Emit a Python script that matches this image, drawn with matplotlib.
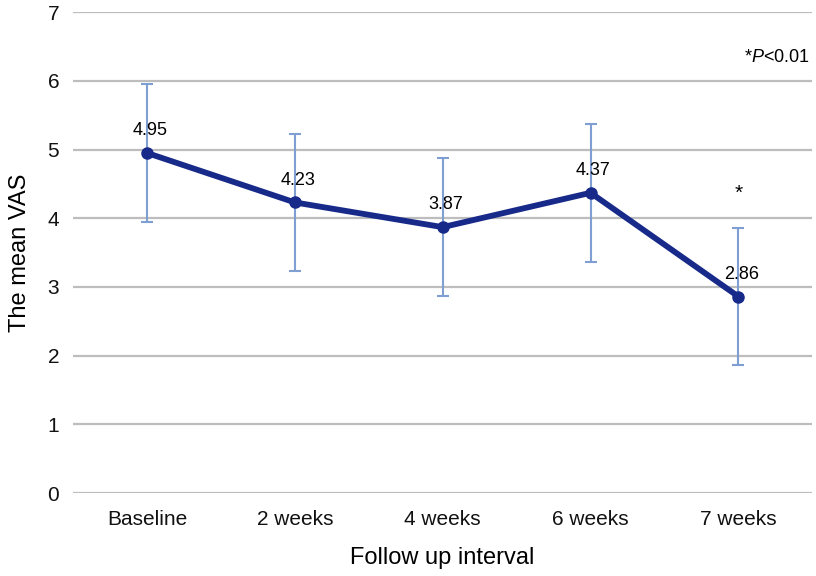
import matplotlib
matplotlib.use("Agg")
import matplotlib.pyplot as plt

plt.rcParams['font.family'] = ['Liberation Sans', 'DejaVu Sans']
plt.rcParams['mathtext.fontset'] = 'custom'
plt.rcParams['mathtext.rm'] = 'Liberation Sans'
plt.rcParams['mathtext.it'] = 'Liberation Sans:italic'

intervals = ["Baseline", "2 weeks", "4 weeks", "6 weeks", "7 weeks"]
mean_vas = [4.95, 4.23, 3.87, 4.37, 2.86]
errors = [1.0, 1.0, 1.0, 1.0, 1.0]
significant = [False, False, False, False, True]

fig = plt.figure(figsize=(8.16, 5.76), dpi=100)
ax = fig.add_axes([0.0895, 0.144, 0.906, 0.835])

x = list(range(len(intervals)))
ax.errorbar(x, mean_vas, yerr=errors, fmt='none', ecolor='#7f9fd3',
            elinewidth=1.5, capsize=4, capthick=1.5, zorder=2)
ax.plot(x, mean_vas, color='#172a8a', linewidth=4.2, marker='o',
        markersize=8, zorder=3)

for xi, v, sig in zip(x, mean_vas, significant):
    ax.annotate(f"{v:.2f}", (xi, v), xytext=(2, 10), textcoords='offset points',
                ha='center', va='bottom', fontsize=13)
    if sig:
        ax.text(xi, v + errors[0] + 0.5, "*", ha='center', va='center', fontsize=15)

ax.text(0.997, 0.905, r"*$\it{P}$<0.01", transform=ax.transAxes,
        ha='right', va='center', fontsize=13)

ax.set_xlim(-0.5, 4.5)
ax.set_ylim(0, 7)
ax.set_yticks(range(0, 8))
ax.set_xticks(x)
ax.set_xticklabels(intervals)
ax.tick_params(axis='both', length=0, labelsize=15, colors='#111111')
ax.tick_params(axis='y', pad=10)
ax.tick_params(axis='x', pad=12)
ax.yaxis.grid(True, color='#bdbdbd', linewidth=1.6)
ax.set_axisbelow(True)
for s in ax.spines.values():
    s.set_visible(False)

ax.set_xlabel("Follow up interval", fontsize=17, labelpad=13)
ax.set_ylabel("The mean VAS", fontsize=17, labelpad=12)

fig.savefig("out.png", dpi=100)
